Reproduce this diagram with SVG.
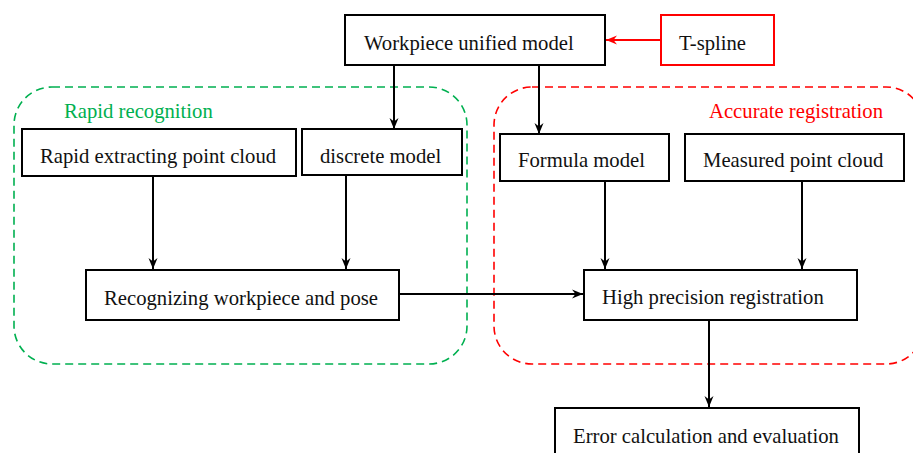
<svg xmlns="http://www.w3.org/2000/svg" width="913" height="453" viewBox="0 0 913 453">
<style>
.box{fill:#fff;stroke:#000;stroke-width:2}
.rbox{fill:#fff;stroke:#ff0000;stroke-width:2}
text{font-family:"Liberation Serif","Times New Roman",serif;font-size:20.7px;fill:#111}
.g{fill:#00b050}
.r{fill:#ff0000}
.c{stroke:#000;stroke-width:2;fill:none}
.cr{stroke:#ff0000;stroke-width:2;fill:none}
.grp{fill:none;stroke-width:1.6;stroke-dasharray:8 5}
</style>
<defs>
<marker id="ah" markerUnits="userSpaceOnUse" markerWidth="14" markerHeight="12" viewBox="-12 -6 14 12" refX="0" refY="0" orient="auto">
<path d="M0,0 L-11,-4.5 L-7.5,0 L-11,4.5 Z" fill="#000"/>
</marker>
<marker id="ahr" markerUnits="userSpaceOnUse" markerWidth="14" markerHeight="12" viewBox="-12 -6 14 12" refX="0" refY="0" orient="auto">
<path d="M0,0 L-11,-4.5 L-7.5,0 L-11,4.5 Z" fill="#ff0000"/>
</marker>
</defs>
<g id="group-rapid">
<rect class="grp" x="14" y="87" width="453" height="277" rx="38" stroke="#00b050"/>
<text class="g" x="64" y="118">Rapid recognition</text>
</g>
<g id="group-accurate">
<rect class="grp" x="494" y="87" width="430" height="277" rx="38" stroke="#ff0000"/>
<text class="r" x="709" y="118">Accurate registration</text>
</g>
<g id="connectors">
<line class="c" x1="394" y1="65" x2="394" y2="129" marker-end="url(#ah)"/>
<line class="c" x1="539" y1="65" x2="539" y2="134" marker-end="url(#ah)"/>
<line class="cr" x1="661" y1="40" x2="606" y2="40" marker-end="url(#ahr)"/>
<line class="c" x1="153" y1="176" x2="153" y2="269" marker-end="url(#ah)"/>
<line class="c" x1="346" y1="175" x2="346" y2="269" marker-end="url(#ah)"/>
<line class="c" x1="399" y1="294" x2="583" y2="294" marker-end="url(#ah)"/>
<line class="c" x1="605" y1="181" x2="605" y2="269" marker-end="url(#ah)"/>
<line class="c" x1="802" y1="181" x2="802" y2="269" marker-end="url(#ah)"/>
<line class="c" x1="709" y1="320" x2="709" y2="407" marker-end="url(#ah)"/>
</g>
<g id="node-workpiece">
<rect class="box" x="345" y="15" width="260" height="50"/>
<text x="364" y="50">Workpiece unified model</text>
</g>
<g id="node-tspline">
<rect class="rbox" x="661" y="15" width="113" height="50"/>
<text x="679" y="50">T-spline</text>
</g>
<g id="node-rapid-extract">
<rect class="box" x="22" y="129" width="274" height="47"/>
<text x="40" y="163">Rapid extracting point cloud</text>
</g>
<g id="node-discrete">
<rect class="box" x="302" y="129" width="160" height="46"/>
<text x="320" y="163">discrete model</text>
</g>
<g id="node-formula">
<rect class="box" x="500" y="134" width="169" height="47"/>
<text x="518" y="167">Formula model</text>
</g>
<g id="node-measured">
<rect class="box" x="685" y="134" width="219" height="47"/>
<text x="703" y="167">Measured point cloud</text>
</g>
<g id="node-recognizing">
<rect class="box" x="86" y="270" width="313" height="50"/>
<text x="104" y="305">Recognizing workpiece and pose</text>
</g>
<g id="node-high">
<rect class="box" x="584" y="270" width="273" height="50"/>
<text x="602" y="303.5">High precision registration</text>
</g>
<g id="node-error">
<rect class="box" x="555" y="408" width="304" height="60"/>
<text x="573" y="443">Error calculation and evaluation</text>
</g>
</svg>
